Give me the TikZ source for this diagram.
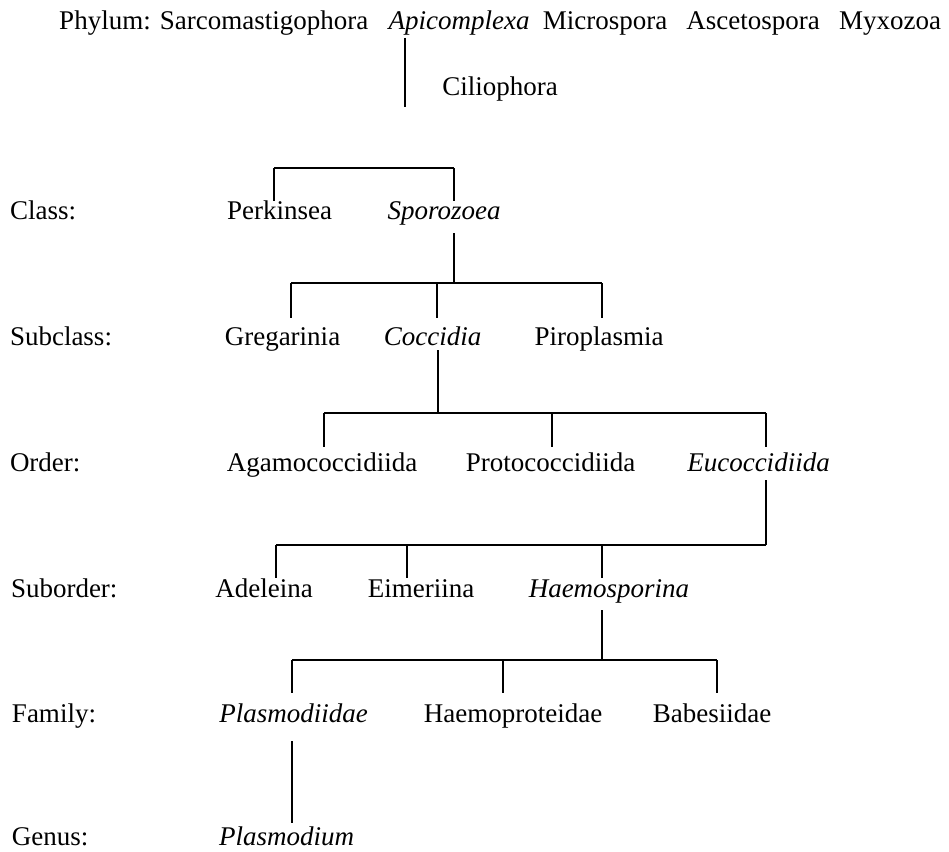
\documentclass[tikz,border=0pt]{standalone}
\usepackage{fontspec}
\setmainfont{Liberation Serif}
\begin{document}
\begin{tikzpicture}[x=1pt,y=-1pt,
  lab/.style={inner sep=0pt, outer sep=0pt, anchor=base west, font=\fontsize{27}{30}\selectfont},
  txt/.style={inner sep=0pt, outer sep=0pt, anchor=base, font=\fontsize{27}{30}\selectfont},
  it/.style={txt, font=\fontsize{27}{30}\selectfont\itshape},
  tree/.style={line width=1.3pt, line cap=butt}]
\useasboundingbox (0,0) rectangle (949,851);
% Phylum row
\node[txt] (phy) at (105,30) {Phylum:};
\node[txt] (sar) at (264,30) {Sarcomastigophora};
\node[it]  (api) at (459,30) {Apicomplexa};
\node[txt] (mic) at (605,30) {Microspora};
\node[txt] (asc) at (753,30) {Ascetospora};
\node[txt] (myx) at (890,30) {Myxozoa};
\node[txt] (cil) at (500,95) {Ciliophora};
% rank labels
\node[lab] (lcls) at (10,219) {Class:};
\node[lab] (lsub) at (10,345) {Subclass:};
\node[lab] (lord) at (10,471) {Order:};
\node[lab] (lsor) at (11,597) {Suborder:};
\node[lab] (lfam) at (12,722) {Family:};
\node[lab] (lgen) at (12,845) {Genus:};
% Class
\node[txt] (per) at (279.5,219) {Perkinsea};
\node[it]  (spo) at (444,219) {Sporozoea};
% Subclass
\node[txt] (gre) at (282.5,345) {Gregarinia};
\node[it]  (coc) at (432.5,345) {Coccidia};
\node[txt] (pir) at (599,345) {Piroplasmia};
% Order
\node[txt] (aga) at (322,471) {Agamococcidiida};
\node[txt] (pro) at (550.5,471) {Protococcidiida};
\node[it]  (euc) at (758.5,471) {Eucoccidiida};
% Suborder
\node[txt] (ade) at (264,597) {Adeleina};
\node[txt] (eim) at (421,597) {Eimeriina};
\node[it]  (hae) at (609,597) {Haemosporina};
% Family
\node[it]  (pla) at (293.5,722) {Plasmodiidae};
\node[txt] (hpr) at (513,722) {Haemoproteidae};
\node[txt] (bab) at (712,722) {Babesiidae};
% Genus
\node[it, anchor=base west] (plm) at (219,845) {Plasmodium};

% coordinates for connectors
\coordinate (apiD) at (405,38);   \coordinate (apiE) at (405,107);
\coordinate (c1) at (274,168); \coordinate (c2) at (454,168);
\coordinate (spoD) at (454,233); \coordinate (s0) at (454,283);
\coordinate (s1) at (291,283); \coordinate (s2) at (437,283); \coordinate (s3) at (602,283);
\coordinate (cocD) at (438,350); \coordinate (o0) at (438,413);
\coordinate (o1) at (324,413); \coordinate (o2) at (552,413); \coordinate (o3) at (766,413);
\coordinate (eucD) at (766,480); \coordinate (u0) at (766,545);
\coordinate (u1) at (276,545); \coordinate (u2) at (407,545); \coordinate (u3) at (602,545);
\coordinate (haeD) at (602,610); \coordinate (f0) at (602,660);
\coordinate (f1) at (292,660); \coordinate (f2) at (503,660); \coordinate (f3) at (717,660);
\coordinate (plaD) at (292,741); \coordinate (plaE) at (292,823);

\draw[tree] (apiD) -- (apiE);
% class bracket
\draw[tree] (c1) -- (c2);
\draw[tree] (c1) -- (c1 |- 0,201);
\draw[tree] (c2) -- (c2 |- 0,201);
% subclass
\draw[tree] (spoD) -- (s0);
\draw[tree] (s1) -- (s3);
\draw[tree] (s1) -- (s1 |- 0,318);
\draw[tree] (s2) -- (s2 |- 0,318);
\draw[tree] (s3) -- (s3 |- 0,318);
% order
\draw[tree] (cocD) -- (o0);
\draw[tree] (o1) -- (o3);
\draw[tree] (o1) -- (o1 |- 0,447);
\draw[tree] (o2) -- (o2 |- 0,447);
\draw[tree] (o3) -- (o3 |- 0,447);
% suborder
\draw[tree] (eucD) -- (u0);
\draw[tree] (u1) -- (u0);
\draw[tree] (u1) -- (u1 |- 0,578);
\draw[tree] (u2) -- (u2 |- 0,578);
\draw[tree] (u3) -- (u3 |- 0,578);
% family
\draw[tree] (haeD) -- (f0);
\draw[tree] (f1) -- (f3);
\draw[tree] (f1) -- (f1 |- 0,693);
\draw[tree] (f2) -- (f2 |- 0,693);
\draw[tree] (f3) -- (f3 |- 0,693);
% genus
\draw[tree] (plaD) -- (plaE);
\end{tikzpicture}
\end{document}
